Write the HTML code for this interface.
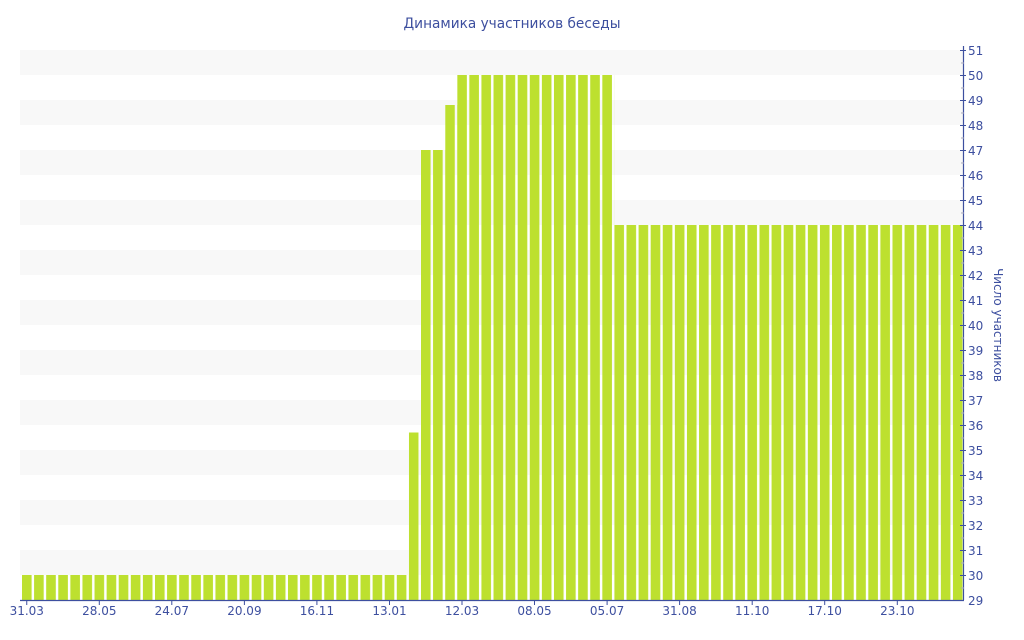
<!DOCTYPE html>
<html><head><meta charset="utf-8"><style>html,body{margin:0;padding:0;background:#fff}svg{display:block}</style></head>
<body>
<svg width="1024" height="640" viewBox="0 0 1024 640" xmlns="http://www.w3.org/2000/svg" font-family="DejaVu Sans, Liberation Sans, sans-serif">
<defs>
<pattern id="b" patternUnits="userSpaceOnUse" x="22" y="0" width="12.09" height="640">
<rect x="0" y="0" width="9.6" height="640" fill="#bde02f"/>
</pattern>
</defs>
<g fill="#f8f8f8">
<rect x="20" y="50" width="943" height="25"/><rect x="20" y="100" width="943" height="25"/><rect x="20" y="150" width="943" height="25"/><rect x="20" y="200" width="943" height="25"/><rect x="20" y="250" width="943" height="25"/><rect x="20" y="300" width="943" height="25"/><rect x="20" y="350" width="943" height="25"/><rect x="20" y="400" width="943" height="25"/><rect x="20" y="450" width="943" height="25"/><rect x="20" y="500" width="943" height="25"/><rect x="20" y="550" width="943" height="25"/>
</g>
<g fill="url(#b)">
<rect x="22" y="575" width="386.9" height="25"/>
<rect x="408.9" y="432.5" width="12.09" height="167.5"/>
<rect x="421" y="150" width="24.18" height="450"/>
<rect x="445.2" y="105" width="12.09" height="495"/>
<rect x="457.2" y="75" width="157.2" height="525"/>
<rect x="614.4" y="225" width="350.6" height="375"/>
</g>
<text x="512" y="28" text-anchor="middle" font-size="14" fill="#3d4f9f" textLength="217" lengthAdjust="spacingAndGlyphs">Динамика участников беседы</text>
<line x1="963.5" y1="46" x2="963.5" y2="600" stroke="#3d4f9f" stroke-width="1.2"/>
<line x1="20" y1="600.5" x2="964" y2="600.5" stroke="#3d4f9f" stroke-width="1.2"/>
<g stroke="#3d4f9f" stroke-width="1">
<path d="M960 50.5h6M960 75.5h6M960 100.5h6M960 125.5h6M960 150.5h6M960 175.5h6M960 200.5h6M960 225.5h6M960 250.5h6M960 275.5h6M960 300.5h6M960 325.5h6M960 350.5h6M960 375.5h6M960 400.5h6M960 425.5h6M960 450.5h6M960 475.5h6M960 500.5h6M960 525.5h6M960 550.5h6M960 575.5h6"/>
</g>
<g stroke="#aab" stroke-width="1">
<path d="M961 63h3M961 88h3M961 113h3M961 138h3M961 163h3M961 188h3M961 213h3M961 238h3M961 263h3M961 288h3M961 313h3M961 338h3M961 363h3M961 388h3M961 413h3M961 438h3M961 463h3M961 488h3M961 513h3M961 538h3M961 563h3M961 588h3"/>
</g>
<g font-size="12" fill="#3d4f9f">
<text x="968" y="55">51</text><text x="968" y="80">50</text><text x="968" y="105">49</text><text x="968" y="130">48</text><text x="968" y="155">47</text><text x="968" y="180">46</text><text x="968" y="205">45</text><text x="968" y="230">44</text><text x="968" y="255">43</text><text x="968" y="280">42</text><text x="968" y="305">41</text><text x="968" y="330">40</text><text x="968" y="355">39</text><text x="968" y="380">38</text><text x="968" y="405">37</text><text x="968" y="430">36</text><text x="968" y="455">35</text><text x="968" y="480">34</text><text x="968" y="505">33</text><text x="968" y="530">32</text><text x="968" y="555">31</text><text x="968" y="580">30</text><text x="968" y="605">29</text>
</g>
<text transform="translate(994,325) rotate(90)" text-anchor="middle" font-size="12" fill="#3d4f9f">Число участников</text>
<g stroke="#3d4f9f" stroke-width="1">
<path d="M26.75 600v5M99.3 600v5M171.8 600v5M244.4 600v5M316.9 600v5M389.5 600v5M462 600v5M534.5 600v5M607.1 600v5M679.6 600v5M752.2 600v5M824.7 600v5M897.3 600v5"/>
</g>
<g font-size="12" fill="#3d4f9f" text-anchor="middle">
<text x="26.75" y="615">31.03</text><text x="99.3" y="615">28.05</text><text x="171.8" y="615">24.07</text><text x="244.4" y="615">20.09</text><text x="316.9" y="615">16.11</text><text x="389.5" y="615">13.01</text><text x="462" y="615">12.03</text><text x="534.5" y="615">08.05</text><text x="607.1" y="615">05.07</text><text x="679.6" y="615">31.08</text><text x="752.2" y="615">11.10</text><text x="824.7" y="615">17.10</text><text x="897.3" y="615">23.10</text>
</g>
</svg>
</body></html>
